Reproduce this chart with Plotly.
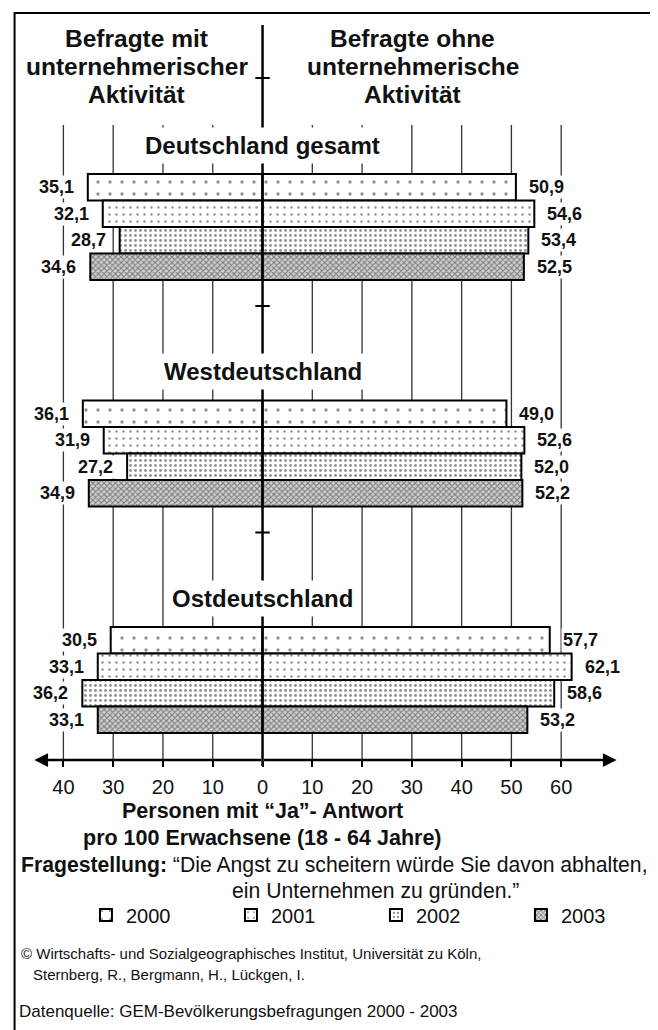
import plotly.graph_objects as go

# ---------------- data ----------------
regions = ["Deutschland gesamt", "Westdeutschland", "Ostdeutschland"]
years = ["2000", "2001", "2002", "2003"]

# Befragte mit unternehmerischer Aktivität (left side), per year, per region
mit_2000 = [35.1, 36.1, 30.5]
mit_2001 = [32.1, 31.9, 33.1]
mit_2002 = [28.7, 27.2, 36.2]
mit_2003 = [34.6, 34.9, 33.1]
# Befragte ohne unternehmerische Aktivität (right side)
ohne_2000 = [50.9, 49.0, 57.7]
ohne_2001 = [54.6, 52.6, 62.1]
ohne_2002 = [53.4, 52.0, 58.6]
ohne_2003 = [52.5, 52.2, 53.2]

tick_vals = [-40, -30, -20, -10, 0, 10, 20, 30, 40, 50, 60]
tick_text = ["40", "30", "20", "10", "0", "10", "20", "30", "40", "50", "60"]

mit = [mit_2000, mit_2001, mit_2002, mit_2003]
ohne = [ohne_2000, ohne_2001, ohne_2002, ohne_2003]

# ---------------- layout constants (pixels) ----------------
W, H = 658, 1030
X0 = 271.0      # pixel of value 0
PXU = 5.3       # pixels per unit
AXIS_Y = 752
GROUP_TOP = [166, 392.5, 619]
ROW_H = 26.5
TITLE_Y = [137, 363.5, 590]
FONT = "Liberation Sans, Arial, sans-serif"
TXT = "#111"

patterns = [
    dict(shape=".", size=12, solidity=0.06, fgcolor="#222", bgcolor="white"),
    dict(shape=".", size=7, solidity=0.10, fgcolor="#222", bgcolor="white"),
    dict(shape=".", size=5, solidity=0.25, fgcolor="#222", bgcolor="white"),
    dict(shape="x", size=4, solidity=0.45, fgcolor="#222", bgcolor="#d0d0d0"),
]

def px2paper(px):
    return px / W

fig = go.Figure()

for i, yr in enumerate(years):
    ys = [GROUP_TOP[g] + (i + 0.5) * ROW_H for g in range(len(regions))]
    fig.add_trace(go.Bar(
        x=[-v for v in mit[i]] + list(ohne[i]),
        y=ys + ys,
        orientation="h",
        width=ROW_H,
        name=yr,
        marker=dict(color="white", pattern=patterns[i],
                    line=dict(color="black", width=2)),
        hoverinfo="skip",
    ))

shapes = []
# grid lines
for v in tick_vals:
    if v == 0:
        continue
    shapes.append(dict(type="line", xref="x", yref="y", x0=v, x1=v, y0=117, y1=AXIS_Y,
                       line=dict(color="#333", width=1.3), layer="below"))
# central axis
shapes.append(dict(type="line", xref="x", yref="y", x0=0, x1=0, y0=17, y1=AXIS_Y + 6,
                   line=dict(color="black", width=2.5), layer="above"))
# small cross ticks on central axis
for yc in [70, 298, 524.5]:
    shapes.append(dict(type="line", xref="x", yref="y", x0=-1.45, x1=1.45, y0=yc, y1=yc,
                       line=dict(color="black", width=2), layer="above"))
# frame
shapes.append(dict(type="rect", xref="paper", yref="paper", x0=px2paper(7), x1=1.2,
                   y0=-0.2, y1=1 - 5 / H, line=dict(color="black", width=2),
                   fillcolor="rgba(0,0,0,0)", layer="below"))

ann = []
# arrows of x axis
for xe in [(28 - X0) / PXU, (648 - X0) / PXU]:
    ann.append(dict(x=xe, y=AXIS_Y, ax=0, ay=AXIS_Y, xref="x", yref="y", axref="x", ayref="y",
                    text="", showarrow=True, arrowhead=2, arrowsize=1.1, arrowwidth=2.5,
                    arrowcolor="black"))

# header
hdr_left = ["Befragte mit", "unternehmerischer", "Aktivität"]
hdr_right = ["Befragte ohne", "unternehmerische", "Aktivität"]
for k, yc in enumerate([30, 58, 86]):
    ann.append(dict(x=px2paper(137), y=yc, xref="paper", yref="y", text="<b>%s</b>" % hdr_left[k],
                    showarrow=False, font=dict(size=24.5, family=FONT, color=TXT),
                    xanchor="center", yanchor="middle"))
    ann.append(dict(x=px2paper(431), y=yc, xref="paper", yref="y", text="<b>%s</b>" % hdr_right[k],
                    showarrow=False, font=dict(size=24.5, family=FONT, color=TXT),
                    xanchor="center", yanchor="middle"))

# region titles
for g, reg in enumerate(regions):
    ann.append(dict(x=0, y=TITLE_Y[g], xref="x", yref="y", text="<b>%s</b>" % reg,
                    showarrow=False, font=dict(size=24, family=FONT, color=TXT),
                    bgcolor="white", borderpad=4, xanchor="center", yanchor="middle"))

# value labels
def fmt(v):
    return ("%.1f" % v).replace(".", ",")

for i in range(len(years)):
    for g in range(len(regions)):
        yc = GROUP_TOP[g] + (i + 0.5) * ROW_H
        ann.append(dict(x=-mit[i][g], y=yc, xref="x", yref="y", text="<b>%s</b>" % fmt(mit[i][g]),
                        showarrow=False, font=dict(size=18, family=FONT, color=TXT),
                        bgcolor="white", borderpad=1, xanchor="right", yanchor="middle",
                        xshift=-12))
        ann.append(dict(x=ohne[i][g], y=yc, xref="x", yref="y", text="<b>%s</b>" % fmt(ohne[i][g]),
                        showarrow=False, font=dict(size=18, family=FONT, color=TXT),
                        bgcolor="white", borderpad=1, xanchor="left", yanchor="middle",
                        xshift=11))

# axis title
ann.append(dict(x=px2paper(271), y=803, xref="paper", yref="y",
                text="<b>Personen mit “Ja”- Antwort</b>", showarrow=False,
                font=dict(size=21.5, family=FONT, color=TXT), xanchor="center", yanchor="middle"))
ann.append(dict(x=px2paper(271), y=830, xref="paper", yref="y",
                text="<b>pro 100 Erwachsene (18 - 64 Jahre)</b>", showarrow=False,
                font=dict(size=21.5, family=FONT, color=TXT), xanchor="center", yanchor="middle"))
# question
ann.append(dict(x=px2paper(12), y=857, xref="paper", yref="y",
                text="<b>Fragestellung:</b> “Die Angst zu scheitern würde Sie davon abhalten,",
                showarrow=False, font=dict(size=21.2, family=FONT, color=TXT),
                xanchor="left", yanchor="middle"))
ann.append(dict(x=px2paper(391), y=883, xref="paper", yref="y",
                text="ein Unternehmen zu gründen.”", showarrow=False,
                font=dict(size=21.2, family=FONT, color=TXT), xanchor="center", yanchor="middle"))
# credits
ann.append(dict(x=px2paper(12), y=945, xref="paper", yref="y",
                text="© Wirtschafts- und Sozialgeographisches Institut, Universität zu Köln,",
                showarrow=False, font=dict(size=15, family=FONT, color=TXT),
                xanchor="left", yanchor="middle"))
ann.append(dict(x=px2paper(24), y=966, xref="paper", yref="y",
                text="Sternberg, R., Bergmann, H., Lückgen, I.",
                showarrow=False, font=dict(size=15, family=FONT, color=TXT),
                xanchor="left", yanchor="middle"))
ann.append(dict(x=px2paper(10), y=1003, xref="paper", yref="y",
                text="Datenquelle: GEM-Bevölkerungsbefragungen 2000 - 2003",
                showarrow=False, font=dict(size=17, family=FONT, color=TXT),
                xanchor="left", yanchor="middle"))

fig.update_layout(
    width=W, height=H,
    margin=dict(l=0, r=0, t=0, b=0),
    paper_bgcolor="white", plot_bgcolor="white",
    barmode="overlay",
    showlegend=True,
    legend=dict(orientation="h", x=px2paper(83), y=1 - 907 / H, xanchor="left", yanchor="middle",
                entrywidth=100, entrywidthmode="pixels", font=dict(size=20, family=FONT, color=TXT),
                bgcolor="rgba(0,0,0,0)", traceorder="normal"),
    xaxis=dict(range=[-X0 / PXU, (W - X0) / PXU], anchor="free", position=1 - AXIS_Y / H,
               tickmode="array", tickvals=tick_vals, ticktext=tick_text,
               ticks="outside", ticklen=6, tickwidth=1.5, tickcolor="black",
               showline=False, showgrid=False, zeroline=False, fixedrange=True,
               tickfont=dict(size=20, family=FONT, color=TXT), ticklabelstandoff=3),
    yaxis=dict(range=[H, 0], domain=[0, 1], visible=False, fixedrange=True),
    shapes=shapes,
    annotations=ann,
)

fig.write_html("out.html")
